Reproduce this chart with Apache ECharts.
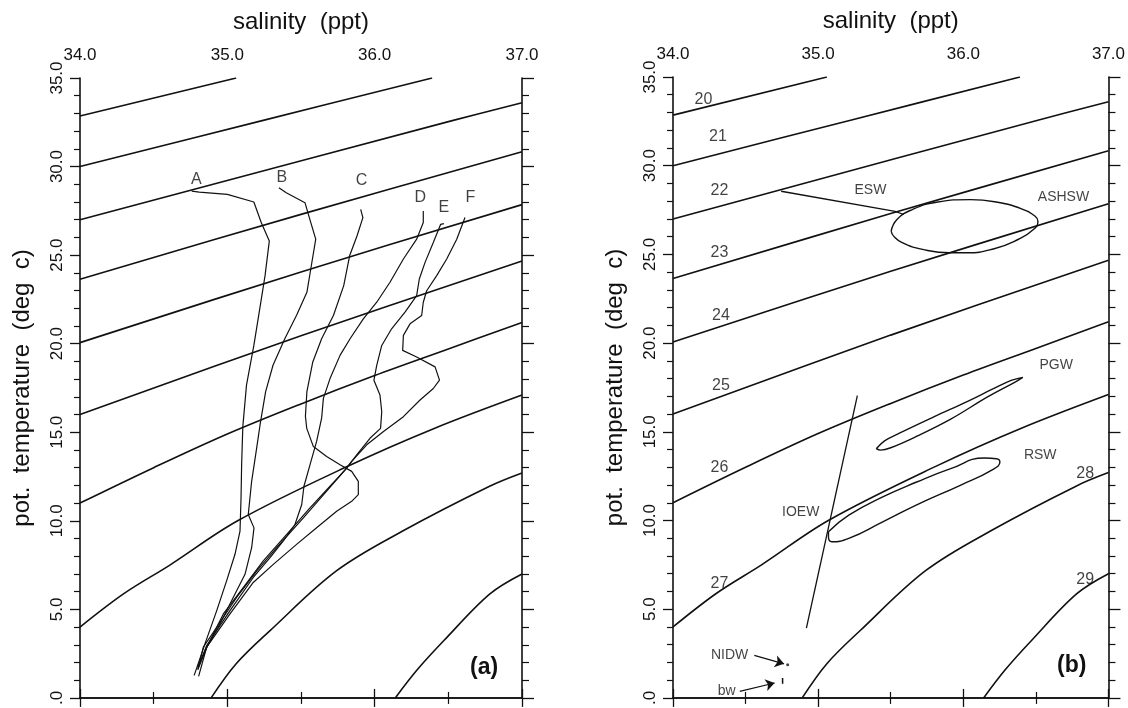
<!DOCTYPE html>
<html style="height: 100%">
<head>
<meta charset="utf-8" />
<title>T-S diagrams</title>
<script src="https://cdn.jsdelivr.net/npm/echarts@6/dist/echarts.min.js"></script>
</head>
<body style="height: 100%; margin: 0; background: #fff">
<div id="container" style="width: 1128px; height: 708px"></div>
<script type="text/javascript">
// sigma-theta isopycnals, [salinity, temperature]
const sig20 = [[34.0, 32.85], [35.06, 35.0]];
const sig21 = [[34.0, 30.0], [35.23, 32.58], [36.39, 35.0]];
const sig22 = [[34.0, 27.0], [36.52, 32.58], [37.0, 33.6]];
const sig23 = [[34.0, 23.64], [35.5, 27.3], [37.0, 30.84]];
const sig24 = [[34.0, 20.06], [35.5, 24.05], [37.0, 27.85]];
const sig25 = [[34.0, 16.0], [35.5, 20.45], [37.0, 24.67]];
const sig26 = [[34.0, 11.0], [34.5, 13.0], [35.0, 14.9], [35.5, 16.6], [36.0, 18.2], [36.5, 19.7], [37.0, 21.2]];
const sig27 = [[34.0, 4.0], [34.3, 5.9], [34.61, 7.5], [35.07, 10.0], [35.81, 13.05], [36.4, 15.2], [37.0, 17.1]];
const sig28 = [[34.89, 0.0], [35.06, 1.93], [35.29, 3.8], [35.74, 7.17], [36.19, 9.42], [36.78, 11.95], [37.0, 12.7]];
const sig29 = [[36.14, 0.0], [36.29, 1.6], [36.47, 3.24], [36.78, 5.86], [37.0, 7.0]];
const isopycnals = [sig20, sig21, sig22, sig23, sig24, sig25, sig26, sig27, sig28, sig29];

// panel (a) station profiles
const profA = [[34.758, 28.61], [34.81, 28.56], [35.0, 28.43], [35.18, 28.0], [35.23, 26.84], [35.285, 25.8], [35.256, 23.84], [35.22, 21.97], [35.18, 19.9], [35.13, 17.66], [35.105, 15.3], [35.097, 13.16], [35.093, 11.29], [35.086, 9.42], [35.052, 8.11], [34.995, 6.61], [34.928, 4.93], [34.848, 3.05], [34.775, 1.27]];
const profB = [[35.35, 28.8], [35.357, 28.72], [35.40, 28.52], [35.527, 27.96], [35.56, 27.02], [35.60, 25.9], [35.57, 24.4], [35.54, 22.9], [35.47, 21.6], [35.39, 20.28], [35.31, 18.78], [35.26, 17.29], [35.222, 15.41], [35.199, 14.1], [35.165, 12.23], [35.142, 10.35], [35.181, 9.6], [35.165, 8.48], [35.12, 6.98], [35.04, 5.67], [34.95, 4.17], [34.86, 2.87], [34.805, 1.22]];
const profC = [[35.905, 27.58], [35.92, 27.12], [35.88, 26.08], [35.83, 24.96], [35.79, 23.28], [35.72, 21.59], [35.64, 20.28], [35.58, 18.97], [35.54, 17.29], [35.53, 15.9], [35.539, 15.22], [35.584, 14.19], [35.674, 13.63], [35.765, 13.16], [35.844, 12.79], [35.889, 12.23], [35.889, 11.48], [35.844, 11.1], [35.742, 10.54], [35.606, 9.61], [35.47, 8.67], [35.312, 7.54], [35.176, 6.52], [35.018, 4.74], [34.86, 2.87], [34.80, 1.74]];
const profD = [[36.33, 27.49], [36.33, 26.84], [36.285, 25.9], [36.195, 24.78], [36.104, 23.47], [36.014, 22.34], [35.923, 21.4], [35.833, 20.28], [35.765, 19.34], [35.697, 18.03], [35.652, 16.91], [35.64, 15.79], [35.606, 14.48], [35.561, 13.16], [35.52, 11.95], [35.505, 10.92], [35.459, 9.79], [35.38, 8.86], [35.29, 7.92], [35.176, 6.8], [35.018, 4.93], [34.86, 2.96], [34.80, 1.7]];
const profE = [[36.47, 26.78], [36.448, 26.74], [36.398, 25.71], [36.342, 24.59], [36.303, 23.65], [36.285, 22.71], [36.206, 21.78], [36.115, 20.84], [36.048, 19.9], [36.014, 18.78], [35.995, 17.94], [36.036, 17.1], [36.048, 16.16], [36.04, 15.22], [35.968, 14.66], [35.878, 13.72], [35.81, 12.98], [35.674, 11.67], [35.516, 10.17], [35.335, 8.48], [35.2, 7.17], [35.063, 5.67], [34.928, 3.99], [34.837, 2.87], [34.80, 1.6]];
const profF = [[36.613, 27.12], [36.557, 25.9], [36.489, 24.78], [36.421, 23.84], [36.353, 22.99], [36.33, 22.34], [36.319, 21.59], [36.24, 21.12], [36.195, 20.47], [36.19, 19.62], [36.285, 19.25], [36.41, 18.69], [36.44, 17.94], [36.398, 17.47], [36.308, 16.82], [36.195, 15.88], [36.06, 15.04], [35.946, 14.29], [35.844, 13.35], [35.8, 12.88], [35.697, 11.95], [35.561, 10.73], [35.403, 9.23], [35.244, 7.74], [35.109, 6.24], [34.973, 4.74], [34.871, 3.05], [34.80, 1.6]];
const profiles = [profA, profB, profC, profD, profE, profF];
const profNames = ['A', 'B', 'C', 'D', 'E', 'F'];
const profLabelPos = [[34.79, 29.25], [35.37, 29.4], [35.91, 29.2], [36.31, 28.25], [36.47, 27.7], [36.65, 28.25]];

// panel (b) water masses
const eswLine = [[34.745, 28.56], [35.53, 27.43], [35.59, 27.25]];
const ashsw = [[35.503, 26.31], [35.543, 26.97], [35.649, 27.53], [35.814, 27.94], [36.049, 28.09], [36.236, 27.94], [36.401, 27.57], [36.495, 27.15], [36.514, 26.87], [36.483, 26.40], [36.377, 25.84], [36.213, 25.32], [36.025, 25.09], [35.908, 25.09], [35.72, 25.28], [35.579, 25.66], [35.52, 26.03], [35.503, 26.31]];
const pgw = [[35.40, 14.05], [35.46, 14.5], [35.56, 14.92], [35.8, 15.85], [36.03, 16.72], [36.2, 17.4], [36.33, 17.9], [36.41, 18.07], [36.36, 17.82], [36.17, 16.98], [35.91, 15.7], [35.68, 14.75], [35.5, 14.1], [35.43, 13.97], [35.40, 14.05]];
const rsw = [[35.071, 9.36], [35.211, 10.3], [35.445, 11.33], [35.679, 12.17], [35.913, 12.92], [36.147, 13.52], [36.228, 13.48], [36.252, 13.3], [36.193, 12.83], [35.983, 12.0], [35.679, 10.88], [35.445, 9.92], [35.211, 8.99], [35.094, 8.8], [35.071, 9.08], [35.071, 9.36]];
const ioewLine = [[34.919, 3.93], [35.27, 17.04]];
const nidwArrow = [[34.56, 2.4], [34.765, 1.92]];
const nidwDot = [[34.79, 1.87]];
const bwArrow = [[34.46, 0.37], [34.70, 0.84]];
const bwTick = [[34.755, 0.8], [34.755, 1.12]];
const sigmaNames = ['20', '21', '22', '23', '24', '25', '26', '27', '28', '29'];
const sigmaLabelPos = [[34.21, 33.7], [34.31, 31.65], [34.32, 28.6], [34.32, 25.1], [34.33, 21.54], [34.33, 17.6], [34.32, 13.0], [34.32, 6.46], [36.84, 12.64], [36.84, 6.65]];
const massNames = ['ESW', 'ASHSW', 'PGW', 'RSW', 'IOEW', 'NIDW', 'bw'];
const massLabelPos = [[35.36, 28.65], [36.69, 28.24], [36.64, 18.73], [36.53, 13.67], [34.88, 10.49], [34.39, 2.43], [34.37, 0.38]];

const salTicks = [34, 35, 36, 37];
const tempTicks = [0, 5, 10, 15, 20, 25, 30, 35];

const font = 'Liberation Sans';
const ink = '#111';

function salAxis(grid, top) {
  return {
    type: 'value', gridIndex: grid, position: top ? 'top' : 'bottom',
    min: salTicks[0], max: salTicks[salTicks.length - 1], interval: 1,
    name: top ? 'salinity  (ppt)' : '', nameLocation: 'middle', nameGap: 44,
    nameTextStyle: { fontFamily: font, fontSize: 24, color: ink },
    axisLine: { lineStyle: { color: ink, width: 1.6 } },
    axisTick: { show: true, length: 9, lineStyle: { color: ink, width: 1.3 } },
    minorTick: { show: true, splitNumber: 2, length: 6, lineStyle: { color: ink, width: 1.2 } },
    axisLabel: { show: top, margin: 14, fontFamily: font, fontSize: 17, color: ink,
      formatter: v => v.toFixed(1) },
    splitLine: { show: false }
  };
}

function tempAxis(grid, left) {
  return {
    type: 'value', gridIndex: grid, position: left ? 'left' : 'right',
    min: tempTicks[0], max: tempTicks[tempTicks.length - 1], interval: 5,
    name: left ? 'pot.  temperature  (deg  c)' : '', nameLocation: 'middle', nameGap: 46,
    nameRotate: 90,
    nameTextStyle: { fontFamily: font, fontSize: 24, color: ink },
    axisLine: { lineStyle: { color: ink, width: 1.6 } },
    axisTick: { show: true, length: left ? 10 : 12, lineStyle: { color: ink, width: 1.3 } },
    minorTick: { show: true, splitNumber: 5, length: left ? 6 : 7, lineStyle: { color: ink, width: 1.2 } },
    axisLabel: { show: left, rotate: 90, margin: 14, fontFamily: font, fontSize: 17, color: ink,
      formatter: v => (v === 0 ? '.0' : v.toFixed(1)) },
    splitLine: { show: false }
  };
}

function curve(data, xi, yi, width, smooth) {
  return {
    type: 'line', xAxisIndex: xi, yAxisIndex: yi, data: data,
    showSymbol: false, symbol: 'none', smooth: smooth, animation: false,
    lineStyle: { color: ink, width: width }, z: 3
  };
}

function texts(names, pos, xi, yi, size) {
  return {
    type: 'scatter', xAxisIndex: xi, yAxisIndex: yi, symbolSize: 0, animation: false,
    data: names.map((n, i) => ({ name: n, value: pos[i] })),
    label: { show: true, position: 'inside', formatter: p => p.name,
      fontFamily: font, fontSize: size, color: ink },
    z: 5
  };
}

function arrow(seg, xi, yi) {
  return {
    type: 'line', xAxisIndex: xi, yAxisIndex: yi, data: [], animation: false,
    markLine: {
      silent: true, symbol: ['none', 'arrow'], symbolSize: 9, animation: false,
      label: { show: false },
      lineStyle: { color: ink, width: 1.2, type: 'solid' },
      data: [[{ coord: seg[0] }, { coord: seg[1] }]]
    }
  };
}

const series = [];
// both panels carry the same density contours
[0, 1].forEach(p => {
  isopycnals.forEach(c => series.push(curve(c, p * 2, p * 2, 1.6, 0.35)));
});
profiles.forEach(pr => series.push(curve(pr, 0, 0, 1.2, false)));
series.push(texts(profNames, profLabelPos, 0, 0, 16));

series.push(curve(eswLine, 2, 2, 1.3, false));
series.push(curve(ashsw, 2, 2, 1.4, 0.5));
series.push(curve(pgw, 2, 2, 1.4, 0.4));
series.push(curve(rsw, 2, 2, 1.4, 0.5));
series.push(curve(ioewLine, 2, 2, 1.3, false));
series.push(curve(bwTick, 2, 2, 1.5, false));
series.push(arrow(nidwArrow, 2, 2));
series.push(arrow(bwArrow, 2, 2));
series.push({
  type: 'scatter', xAxisIndex: 2, yAxisIndex: 2, data: nidwDot, symbolSize: 3,
  itemStyle: { color: ink }, animation: false
});
series.push(texts(sigmaNames, sigmaLabelPos, 2, 2, 16));
series.push(texts(massNames, massLabelPos, 2, 2, 14));

const chart = echarts.init(document.getElementById('container'), null, { renderer: 'canvas' });
chart.setOption({
  backgroundColor: '#fff',
  animation: false,
  grid: [
    { left: 80, top: 78, width: 442, height: 623 },
    { left: 673, top: 77, width: 438, height: 623 }
  ],
  xAxis: [salAxis(0, true), salAxis(0, false), salAxis(1, true), salAxis(1, false)],
  yAxis: [tempAxis(0, true), tempAxis(0, false), tempAxis(1, true), tempAxis(1, false)],
  graphic: [
    { type: 'text', left: 470, top: 656, style: { text: '(a)', fontFamily: font, fontSize: 23, fontWeight: 'bold', fill: ink } },
    { type: 'text', left: 1057, top: 654, style: { text: '(b)', fontFamily: font, fontSize: 23, fontWeight: 'bold', fill: ink } }
  ],
  series: series
});
</script>
</body>
</html>
